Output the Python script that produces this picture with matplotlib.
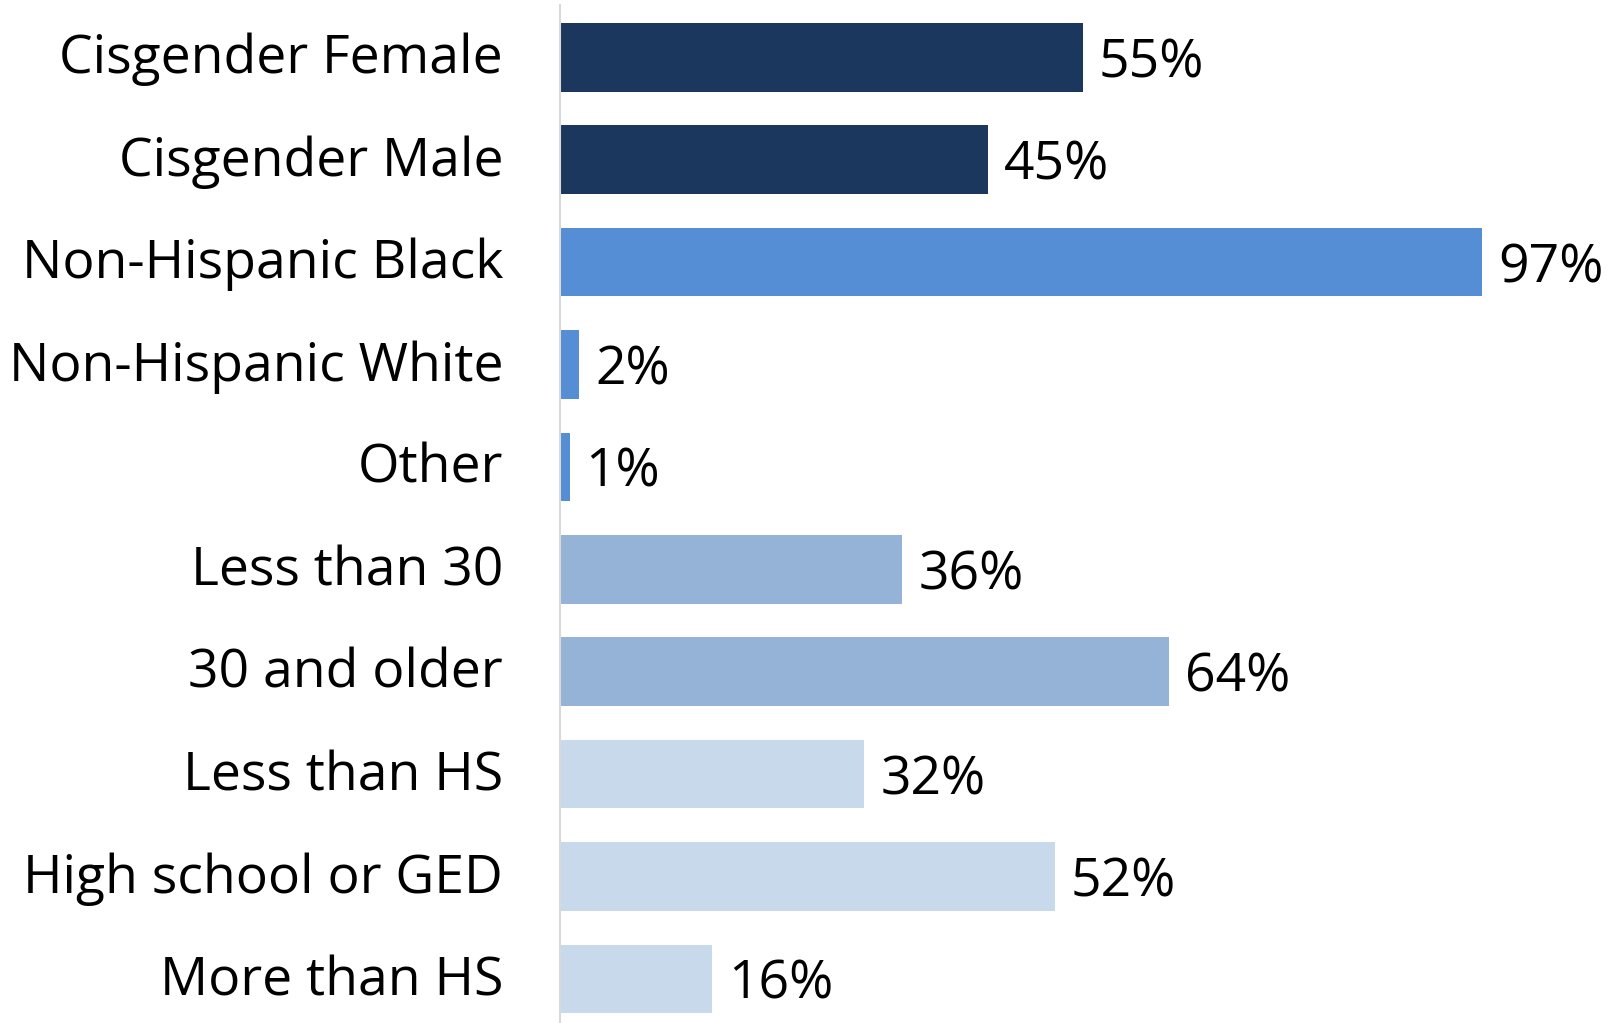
import numpy as np
import matplotlib.pyplot as plt
from matplotlib.transforms import ScaledTranslation

plt.rcParams['font.family'] = ['Open Sans', 'DejaVu Sans']

categories = ['Cisgender Female', 'Cisgender Male', 'Non-Hispanic Black',
              'Non-Hispanic White', 'Other', 'Less than 30', '30 and older',
              'Less than HS', 'High school or GED', 'More than HS']
values = [55, 45, 97, 2, 1, 36, 64, 32, 52, 16]
groups = [0, 0, 1, 1, 1, 2, 2, 3, 3, 3]
group_colors = ['#1b375e', '#558ed5', '#95b3d7', '#c9d9ec']

fig = plt.figure(figsize=(16.07, 10.23), dpi=100)
ax = fig.add_axes([560/1607, 0, 951/1607, 1 - 5/1023])

y = np.arange(len(categories))
colors = [group_colors[g] for g in groups]
ax.barh(y, values, height=0.67, color=colors)

for yi, v in zip(y, values):
    ax.annotate('%d%%' % v, (v, yi), xytext=(11.5, -4.5), textcoords='offset points',
                va='center', ha='left', fontsize=38.5)

ax.set_xlim(0, 100)
ax.set_ylim(9.43, -0.51)
ax.set_yticks(y)
ax.set_yticklabels(categories, fontsize=38.5)
ax.tick_params(axis='y', length=0, pad=41)
# nudge category labels up a little
shift = ScaledTranslation(0, 3/72, fig.dpi_scale_trans)
for lab in ax.get_yticklabels():
    lab.set_transform(lab.get_transform() + shift)
ax.set_xticks([])
for s in ['top', 'right', 'bottom']:
    ax.spines[s].set_visible(False)
ax.spines['left'].set_color('#d9d9d9')
ax.spines['left'].set_linewidth(1.5)

fig.savefig('out.png', dpi=100)
